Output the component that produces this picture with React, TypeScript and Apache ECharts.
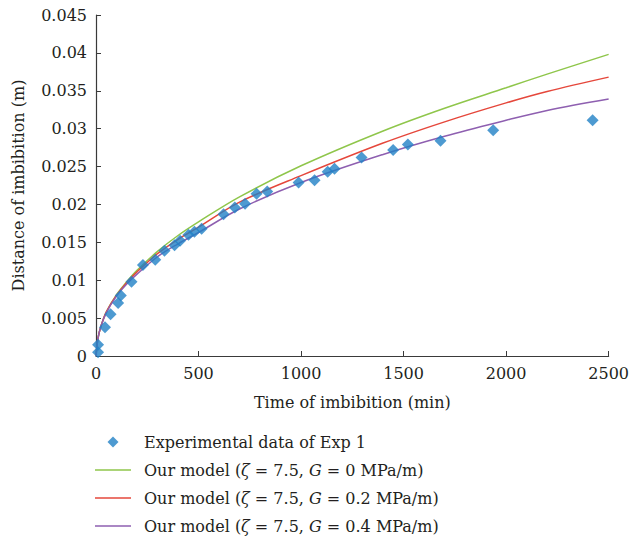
import React, { useEffect, useRef } from "react";
import * as echarts from "echarts";

// Experimental data of Exp 1: time (min) and distance of imbibition (m)
const expTime = [10, 10, 44, 71, 108, 121, 173, 229, 289, 334, 383, 410, 451, 480, 515, 622, 677, 727, 783, 835, 988, 1066, 1130, 1163, 1295, 1449, 1521, 1680, 1937, 2422];
const expDist = [0.0005, 0.0015, 0.0038, 0.0055, 0.0070, 0.0080, 0.0098, 0.0120, 0.0127, 0.0139, 0.0146, 0.0152, 0.0160, 0.0164, 0.0168, 0.0187, 0.0196, 0.0201, 0.0214, 0.0217, 0.0229, 0.0232, 0.0243, 0.0247, 0.0262, 0.0272, 0.0279, 0.0284, 0.0298, 0.0311];

// Model curves sampled at these times
const modelTime = [0, 10, 25, 50, 100, 150, 200, 300, 400, 500, 700, 1000, 1400, 1700, 2000, 2200, 2500];
const modelG0 = [0, 0.0024, 0.0040, 0.0058, 0.0081, 0.0098, 0.0113, 0.0138, 0.0159, 0.0177, 0.0210, 0.0251, 0.0297, 0.0327, 0.0354, 0.0372, 0.0398];
const modelG02 = [0, 0.0024, 0.0040, 0.0058, 0.0080, 0.0097, 0.0111, 0.0135, 0.0154, 0.0170, 0.0203, 0.0238, 0.0281, 0.0309, 0.0334, 0.0349, 0.0368];
const modelG04 = [0, 0.0024, 0.0040, 0.0057, 0.0079, 0.0095, 0.0108, 0.0131, 0.0148, 0.0163, 0.0194, 0.0229, 0.0266, 0.0290, 0.0311, 0.0324, 0.0339];

const seriesNames = [
  "Experimental data of Exp 1",
  "Our model (ζ = 7.5, G = 0 MPa/m)",
  "Our model (ζ = 7.5, G = 0.2 MPa/m)",
  "Our model (ζ = 7.5, G = 0.4 MPa/m)",
];
const gValues = ["0", "0.2", "0.4"];

const FONT = "DejaVu Serif";
const TEXT_COLOR = "#231f20";
const AXIS_COLOR = "#3a3a3a";

export default function App() {
  const ref = useRef<HTMLDivElement>(null);

  useEffect(() => {
    document.body.style.margin = "0";
    if (!ref.current) return;
    const chart = echarts.init(ref.current, undefined, { renderer: "svg" });

    const pair = (xs: number[], ys: number[]) => xs.map((x, i) => [x, ys[i]]);

    const lineSeries = (name: string, ys: number[], color: string) => ({
      name,
      type: "line",
      data: pair(modelTime, ys),
      symbol: "none",
      smooth: 0.35,
      lineStyle: { color, width: 1.5 },
      itemStyle: { color },
      z: 2,
    });

    const legendFormatter = (name: string) => {
      const idx = seriesNames.indexOf(name);
      if (idx <= 0) return `{r|${name}}`;
      return `{r|Our model (}{i|ζ}{r| = 7.5, }{i|G}{r| = ${gValues[idx - 1]} MPa/m)}`;
    };

    const lineIcon = "path://M0 0H36V1.5H0Z";
    const diamondIcon = "path://M5 0L10 5L5 10L0 5Z";

    chart.setOption({
      animation: false,
      backgroundColor: "#ffffff",
      grid: { left: 96, right: 20, top: 15, bottom: 182, containLabel: false },
      xAxis: {
        type: "value",
        min: 0,
        max: 2500,
        interval: 500,
        name: "Time of imbibition (min)",
        nameLocation: "middle",
        nameGap: 38,
        nameTextStyle: { fontFamily: FONT, fontSize: 16, color: TEXT_COLOR },
        axisLine: { show: true, lineStyle: { color: AXIS_COLOR, width: 1.2 } },
        axisTick: { show: true, inside: true, length: 5, lineStyle: { color: AXIS_COLOR } },
        axisLabel: {
          fontFamily: FONT,
          fontSize: 16,
          color: TEXT_COLOR,
          margin: 9,
          formatter: (v: number) => String(v),
        },
        splitLine: { show: false },
      },
      yAxis: {
        type: "value",
        min: 0,
        max: 0.045,
        interval: 0.005,
        name: "Distance of imbibition (m)",
        nameLocation: "middle",
        nameGap: 70,
        nameTextStyle: { fontFamily: FONT, fontSize: 16, color: TEXT_COLOR },
        axisLine: { show: true, lineStyle: { color: AXIS_COLOR, width: 1.2 } },
        axisTick: { show: true, inside: true, length: 5, lineStyle: { color: AXIS_COLOR } },
        axisLabel: {
          fontFamily: FONT,
          fontSize: 16,
          color: TEXT_COLOR,
          margin: 9,
          formatter: (v: number) => String(parseFloat(v.toFixed(4))),
        },
        splitLine: { show: false },
      },
      legend: {
        orient: "vertical",
        left: 95,
        top: 433,
        padding: 0,
        itemWidth: 36,
        itemHeight: 11,
        itemGap: 10,
        formatter: legendFormatter,
        textStyle: {
          fontFamily: FONT,
          fontSize: 16,
          color: TEXT_COLOR,
          lineHeight: 18,
          padding: [0, 0, 0, 8],
          rich: {
            r: { fontFamily: FONT, fontSize: 16, color: TEXT_COLOR, lineHeight: 18 },
            i: { fontFamily: FONT, fontSize: 16, color: TEXT_COLOR, lineHeight: 18, fontStyle: "italic" },
          },
        },
        data: seriesNames.map((n, i) =>
          i === 0 ? { name: n, icon: diamondIcon } : { name: n, icon: lineIcon }
        ),
      },
      series: [
        {
          name: seriesNames[0],
          type: "scatter",
          data: pair(expTime, expDist),
          symbol: "diamond",
          symbolSize: 12,
          itemStyle: { color: "#2181c6" },
          z: 3,
        },
        lineSeries(seriesNames[1], modelG0, "#8fc64b"),
        lineSeries(seriesNames[2], modelG02, "#e5473b"),
        lineSeries(seriesNames[3], modelG04, "#8e5fb0"),
      ],
    });

    return () => chart.dispose();
  }, []);

  return <div ref={ref} style={{ width: 632, height: 538 }} />;
}
